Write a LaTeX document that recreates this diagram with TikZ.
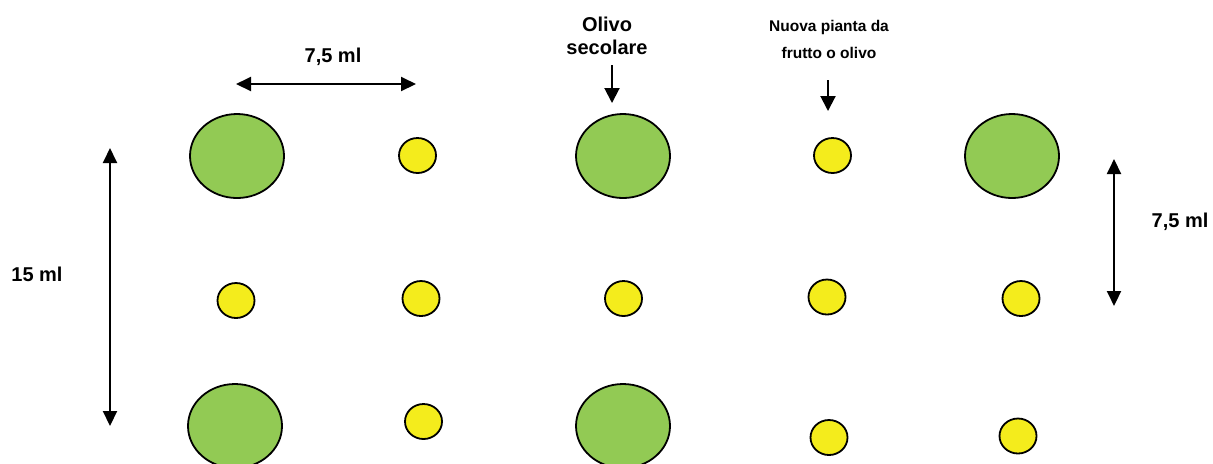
\documentclass[tikz,border=0pt]{standalone}
\usepackage{fontspec}
\setmainfont{Liberation Sans}
\usetikzlibrary{shapes.geometric,arrows.meta}
\definecolor{olivegreen}{RGB}{146,202,84}
\definecolor{newyellow}{RGB}{244,236,28}
\tikzset{
  oldtree/.style={ellipse,draw=black,line width=0.9pt,fill=olivegreen,inner sep=0pt,minimum width=47pt,minimum height=42pt},
  newtree/.style={ellipse,draw=black,line width=0.9pt,fill=newyellow,inner sep=0pt,minimum width=18.5pt,minimum height=17.5pt},
  dimarrow/.style={line width=1pt,{Triangle[length=7.5pt,width=7pt]}-{Triangle[length=7.5pt,width=7pt]}},
  ptrarrow/.style={line width=1pt,-{Triangle[length=7.5pt,width=7.5pt]}},
  biglabel/.style={font=\bfseries\fontsize{10}{11.5}\selectfont,inner sep=0pt,align=center},
  smalllabel/.style={font=\bfseries\fontsize{7.75}{13.5}\selectfont,inner sep=0pt,align=center}
}
\begin{document}
\begin{tikzpicture}[x=0.5pt,y=-0.5pt]
\useasboundingbox (0,0) rectangle (1213,463);
% old olive trees
\node[oldtree] (g1) at (237,156) {};
\node[oldtree] (g2) at (623,156) {};
\node[oldtree] (g3) at (1012,156) {};
\node[oldtree] (g4) at (235,426) {};
\node[oldtree] (g5) at (623,426) {};
% new plants
\node[newtree] (y1) at (417.5,155.5) {};
\node[newtree] (y2) at (832.5,155.5) {};
\node[newtree] (y3) at (236,300.5) {};
\node[newtree] (y4) at (421,298.5) {};
\node[newtree] (y5) at (623.5,298.5) {};
\node[newtree] (y6) at (827,297) {};
\node[newtree] (y7) at (1021,298.5) {};
\node[newtree] (y8) at (423.5,421.5) {};
\node[newtree] (y9) at (829,437.5) {};
\node[newtree] (y10) at (1018,436) {};
% dimension arrows
\coordinate (h1) at (236,84);
\coordinate (h2) at (416,84);
\draw[dimarrow] (h1) -- (h2);
\node[biglabel] (t1) at (333,57) {7,5 ml};
\coordinate (v1) at (110,148);
\coordinate (v2) at (110,426);
\draw[dimarrow] (v1) -- (v2);
\node[biglabel] (t2) at (37,274) {15 ml};
\coordinate (r1) at (1114,159);
\coordinate (r2) at (1114,306);
\draw[dimarrow] (r1) -- (r2);
\node[biglabel] (t3) at (1180,222) {7,5 ml};
% pointer labels
\node[biglabel] (t4) at (607,35.5) {Olivo\\secolare};
\coordinate (p1) at (612,65);
\coordinate (p1e) at (612,103);
\draw[ptrarrow] (p1) -- (p1e);
\node[smalllabel] (t5) at (829,39.5) {Nuova pianta da\\frutto o olivo};
\coordinate (p2) at (828,80);
\coordinate (p2e) at (828,111);
\draw[ptrarrow] (p2) -- (p2e);
\end{tikzpicture}
\end{document}
